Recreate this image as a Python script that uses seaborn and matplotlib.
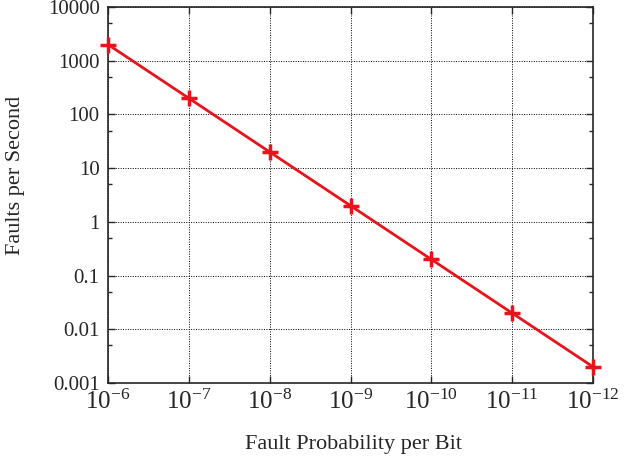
import numpy as np
import pandas as pd
import matplotlib
matplotlib.use("Agg")
import matplotlib.pyplot as plt
import matplotlib.ticker as mticker
import seaborn as sns

# data
fault_prob = [1e-6, 1e-7, 1e-8, 1e-9, 1e-10, 1e-11, 1e-12]
faults_per_sec = [2000, 200, 20, 2, 0.2, 0.02, 0.002]

x_ticks = [1e-6, 1e-7, 1e-8, 1e-9, 1e-10, 1e-11, 1e-12]
y_ticks = [0.001, 0.01, 0.1, 1, 10, 100, 1000, 10000]
y_labels = ["0.001", "0.01", "0.1", "1", "10", "100", "1000", "10000"]

df = pd.DataFrame({"prob": fault_prob, "faults": faults_per_sec})

sns.set_style("ticks")
plt.rcParams["font.family"] = ["Liberation Serif", "DejaVu Serif"]
plt.rcParams["mathtext.fontset"] = "cm"

fig = plt.figure(figsize=(6.31, 4.61), dpi=100)
ax = fig.add_axes([108 / 631, 1 - 383 / 461, (593 - 108) / 631, (383 - 7) / 461])

red = "#e8131b"
sns.lineplot(data=df, x="prob", y="faults", ax=ax, color=red, linewidth=2)
ax.plot(df["prob"], df["faults"], linestyle="none", marker="+",
        markersize=11, markeredgewidth=2.5, color=red, zorder=5,
        clip_on=False)

ax.set_xscale("log")
ax.set_yscale("log")
ax.set_xlim(1e-6, 1e-12)
ax.set_ylim(0.001, 10000)

ax.set_xticks(x_ticks)
ax.xaxis.set_major_formatter(mticker.LogFormatterMathtext())
ax.xaxis.set_minor_locator(mticker.NullLocator())
ax.set_yticks(y_ticks)
ax.set_yticklabels(y_labels)
ax.yaxis.set_minor_locator(mticker.FixedLocator([5 * t for t in y_ticks[:-1]]))
ax.yaxis.set_minor_formatter(mticker.NullFormatter())

ax.grid(True, which="major", linestyle=(0, (1, 1.5)), color="black", linewidth=0.7)
ax.tick_params(which="both", direction="in", top=True, right=True, width=1)
ax.tick_params(which="major", length=5)
ax.tick_params(which="minor", length=3)
ax.tick_params(axis="y", labelsize=15, pad=6)
ax.tick_params(axis="x", labelsize=18, pad=5)
for s in ax.spines.values():
    s.set_linewidth(1.2)

ax.set_xlabel("Fault Probability per Bit", fontsize=16)
ax.set_ylabel("Faults per Second", fontsize=16)
ax.xaxis.set_label_coords(0.506, -0.138)
ax.yaxis.set_label_coords(-0.171, 0.553)

fig.savefig("out.png", dpi=100)
